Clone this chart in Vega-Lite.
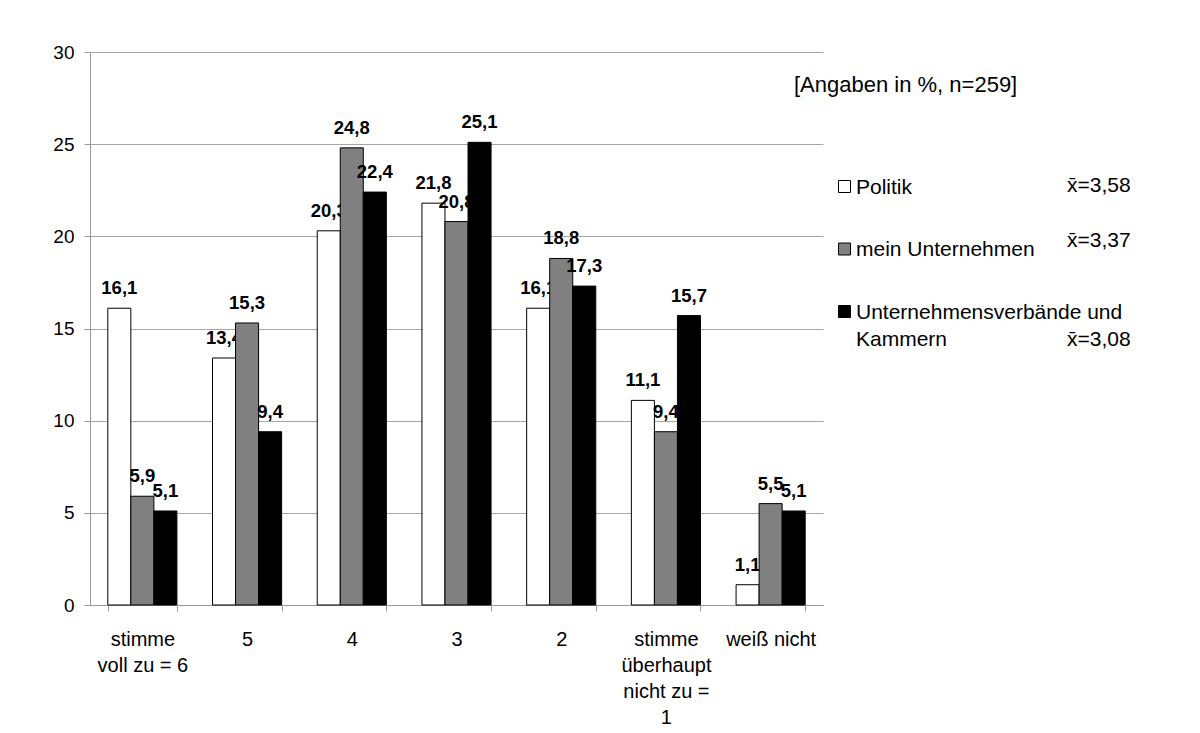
{
  "$schema": "https://vega.github.io/schema/vega-lite/v6.json",
  "autosize": "none",
  "width": 733,
  "height": 553,
  "padding": {"left": 90, "top": 52, "right": 377, "bottom": 128},
  "background": "white",
  "title": {
    "text": "[Angaben in %, n=259]",
    "anchor": "start",
    "frame": "group",
    "orient": "top",
    "dx": 704,
    "dy": 71,
    "offset": 0,
    "baseline": "alphabetic",
    "font": "Liberation Sans",
    "fontSize": 22,
    "fontWeight": "normal",
    "color": "#000000"
  },
  "data": {
    "values": [
      {"category": "stimme voll zu = 6", "series": "Politik", "value": 16.1, "mean": 3.58},
      {"category": "stimme voll zu = 6", "series": "mein Unternehmen", "value": 5.9, "mean": 3.37},
      {"category": "stimme voll zu = 6", "series": "Unternehmensverbände und Kammern", "value": 5.1, "mean": 3.08},
      {"category": "5", "series": "Politik", "value": 13.4, "mean": 3.58},
      {"category": "5", "series": "mein Unternehmen", "value": 15.3, "mean": 3.37},
      {"category": "5", "series": "Unternehmensverbände und Kammern", "value": 9.4, "mean": 3.08},
      {"category": "4", "series": "Politik", "value": 20.3, "mean": 3.58},
      {"category": "4", "series": "mein Unternehmen", "value": 24.8, "mean": 3.37},
      {"category": "4", "series": "Unternehmensverbände und Kammern", "value": 22.4, "mean": 3.08},
      {"category": "3", "series": "Politik", "value": 21.8, "mean": 3.58},
      {"category": "3", "series": "mein Unternehmen", "value": 20.8, "mean": 3.37},
      {"category": "3", "series": "Unternehmensverbände und Kammern", "value": 25.1, "mean": 3.08},
      {"category": "2", "series": "Politik", "value": 16.1, "mean": 3.58},
      {"category": "2", "series": "mein Unternehmen", "value": 18.8, "mean": 3.37},
      {"category": "2", "series": "Unternehmensverbände und Kammern", "value": 17.3, "mean": 3.08},
      {"category": "stimme überhaupt nicht zu = 1", "series": "Politik", "value": 11.1, "mean": 3.58},
      {"category": "stimme überhaupt nicht zu = 1", "series": "mein Unternehmen", "value": 9.4, "mean": 3.37},
      {"category": "stimme überhaupt nicht zu = 1", "series": "Unternehmensverbände und Kammern", "value": 15.7, "mean": 3.08},
      {"category": "weiß nicht", "series": "Politik", "value": 1.1, "mean": 3.58},
      {"category": "weiß nicht", "series": "mein Unternehmen", "value": 5.5, "mean": 3.37},
      {"category": "weiß nicht", "series": "Unternehmensverbände und Kammern", "value": 5.1, "mean": 3.08}
    ]
  },
  "encoding": {
    "x": {
      "field": "category",
      "type": "nominal",
      "sort": null,
      "title": null,
      "scale": {
        "domain": ["stimme voll zu = 6", "5", "4", "3", "2", "stimme überhaupt nicht zu = 1", "weiß nicht"],
        "paddingInner": 0.34,
        "paddingOuter": 0.17
      },
      "axis": {
        "tickBand": "extent",
        "labelAngle": 0,
        "labelAlign": "center",
        "labelBaseline": "top",
        "labelPadding": 18,
        "labelLineHeight": 26,
        "labelFontSize": 20,
        "labelLimit": 300,
        "labelExpr": "datum.label == 'stimme voll zu = 6' ? ['stimme', 'voll zu = 6'] : datum.label == 'stimme überhaupt nicht zu = 1' ? ['stimme', 'überhaupt', 'nicht zu =', '1'] : datum.label"
      }
    },
    "xOffset": {
      "field": "series",
      "type": "nominal",
      "scale": {"domain": ["Politik", "mein Unternehmen", "Unternehmensverbände und Kammern"]}
    },
    "y": {
      "field": "value",
      "type": "quantitative",
      "title": null,
      "scale": {"domain": [0, 30], "nice": false},
      "axis": {
        "values": [0, 5, 10, 15, 20, 25, 30],
        "labelFontSize": 19,
        "labelPadding": 10,
        "grid": true
      }
    }
  },
  "layer": [
    {
      "transform": [{"filter": "datum.series == 'Politik'"}],
      "mark": {"type": "bar", "stroke": "#000000", "strokeWidth": 1},
      "encoding": {
        "fill": {
          "field": "series",
          "type": "nominal",
          "scale": {
            "domain": ["Politik", "mein Unternehmen", "Unternehmensverbände und Kammern"],
            "range": ["#ffffff", "#808080", "#000000"]
          },
          "legend": {
            "title": null,
            "orient": "none",
            "legendX": 744,
            "legendY": 124,
            "symbolType": "square",
            "symbolSize": 144,
            "symbolStrokeColor": "#000000",
            "symbolStrokeWidth": 1,
            "labelFontSize": 21,
            "labelOffset": 1,
            "labelLimit": 400,
            "labelBaseline": "alphabetic",
            "rowPadding": 40.5,
            "labelExpr": "datum.label == 'Unternehmensverbände und Kammern' ? ['Unternehmensverbände und', 'Kammern'] : datum.label",
            "encode": {"labels": {"update": {"dy": {"value": 7}, "lineHeight": {"value": 27}}}}
          }
        },
        "opacity": {
          "field": "mean",
          "type": "nominal",
          "scale": {"domain": [3.58, 3.37, 3.08], "range": [1, 1, 1]},
          "legend": {
            "title": null,
            "orient": "none",
            "legendX": 956,
            "legendY": 129,
            "symbolType": "circle",
            "symbolSize": 1,
            "symbolFillColor": "rgba(0,0,0,0)",
            "symbolStrokeColor": "rgba(0,0,0,0)",
            "symbolStrokeWidth": 0,
            "labelFontSize": 21,
            "labelOffset": 0,
            "labelLimit": 400,
            "labelBaseline": "alphabetic",
            "rowPadding": 33,
            "labelExpr": "datum.value == 3.08 ? [' ', 'x\u0304=' + replace(datum.label, '.', ',')] : 'x\u0304=' + replace(datum.label, '.', ',')",
            "encode": {
              "symbols": {"update": {"opacity": {"value": 0}}},
              "labels": {"update": {"lineHeight": {"value": 44}}}
            }
          }
        }
      }
    },
    {
      "transform": [{"filter": "datum.series == 'Politik'"}],
      "mark": {"type": "text", "baseline": "alphabetic", "dy": -14, "fontWeight": "bold", "fontSize": 18.5, "color": "#000000"},
      "encoding": {"text": {"field": "value", "type": "quantitative", "format": ".1f"}}
    },
    {
      "transform": [{"filter": "datum.series == 'mein Unternehmen'"}],
      "mark": {"type": "bar", "stroke": "#000000", "strokeWidth": 1},
      "encoding": {
        "fill": {"field": "series", "type": "nominal"},
        "opacity": {"field": "mean", "type": "nominal"}
      }
    },
    {
      "transform": [{"filter": "datum.series == 'mein Unternehmen'"}],
      "mark": {"type": "text", "baseline": "alphabetic", "dy": -14, "fontWeight": "bold", "fontSize": 18.5, "color": "#000000"},
      "encoding": {"text": {"field": "value", "type": "quantitative", "format": ".1f"}}
    },
    {
      "transform": [{"filter": "datum.series == 'Unternehmensverbände und Kammern'"}],
      "mark": {"type": "bar", "stroke": "#000000", "strokeWidth": 1},
      "encoding": {
        "fill": {"field": "series", "type": "nominal"},
        "opacity": {"field": "mean", "type": "nominal"}
      }
    },
    {
      "transform": [{"filter": "datum.series == 'Unternehmensverbände und Kammern'"}],
      "mark": {"type": "text", "baseline": "alphabetic", "dy": -14, "fontWeight": "bold", "fontSize": 18.5, "color": "#000000"},
      "encoding": {"text": {"field": "value", "type": "quantitative", "format": ".1f"}}
    }
  ],
  "config": {
    "locale": {"number": {"decimal": ",", "thousands": ".", "grouping": [3], "currency": ["", " €"]}},
    "font": "Liberation Sans",
    "view": {"stroke": null},
    "axis": {
      "labelFont": "Liberation Sans",
      "labelColor": "#000000",
      "domainColor": "#9a9a9a",
      "tickColor": "#9a9a9a",
      "gridColor": "#a6a6a6",
      "gridOpacity": 1,
      "tickSize": 6,
      "domainWidth": 1,
      "tickWidth": 1,
      "gridWidth": 1
    },
    "legend": {
      "labelFont": "Liberation Sans",
      "labelColor": "#000000"
    },
    "text": {"font": "Liberation Sans"}
  }
}
